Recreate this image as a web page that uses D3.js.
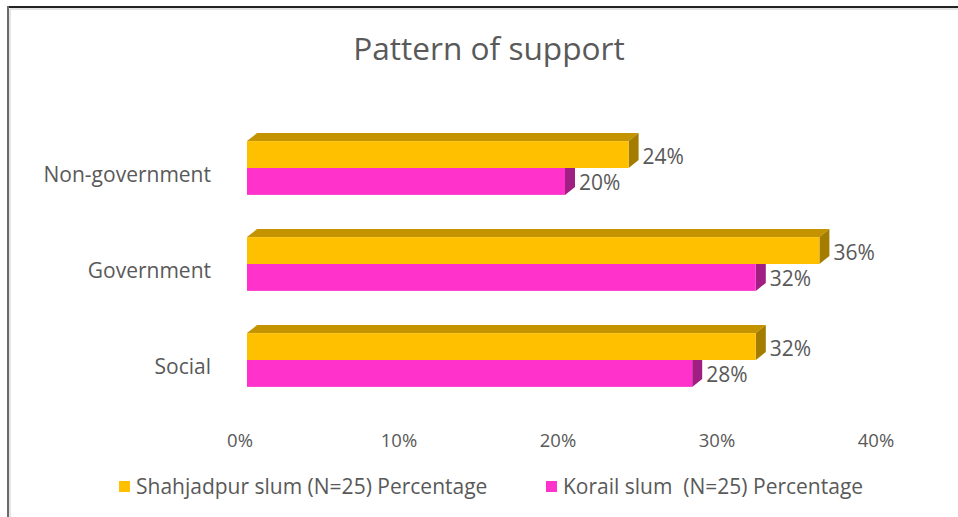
<!DOCTYPE html>
<html>
<head>
<meta charset="utf-8">
<script src="https://cdn.jsdelivr.net/npm/d3@7"></script>
<style>
  body { margin: 0; background: #fff; }
  svg text { font-family: "Open Sans", "Noto Sans", sans-serif; fill: #595959; }
</style>
</head>
<body>
<svg id="chart" width="958" height="517"></svg>
<script>
// chart data
var categories = ["Non-government", "Government", "Social"];
var seriesNames = ["Shahjadpur slum (N=25) Percentage", "Korail slum  (N=25) Percentage"];
var shahjadpur = [0.24, 0.36, 0.32];
var korail = [0.20, 0.32, 0.28];
var xTicks = [0, 0.1, 0.2, 0.3, 0.4];

var svg = d3.select("#chart");

// frame (only top + left edge visible in the original screenshot)
svg.append("rect").attr("x", 0).attr("y", 0).attr("width", 958).attr("height", 517).attr("fill", "#fff");
svg.append("line").attr("x1", 8).attr("x2", 958).attr("y1", 7).attr("y2", 7).attr("stroke", "#222").attr("stroke-width", 2);
svg.append("line").attr("x1", 8).attr("x2", 8).attr("y1", 6).attr("y2", 517).attr("stroke", "#6a6a6a").attr("stroke-width", 2);
svg.append("line").attr("x1", 10).attr("x2", 958).attr("y1", 9).attr("y2", 9).attr("stroke", "#e4e4e4").attr("stroke-width", 2);
svg.append("line").attr("x1", 10).attr("x2", 10).attr("y1", 9).attr("y2", 517).attr("stroke", "#e4e4e4").attr("stroke-width", 2);

svg.append("text")
  .attr("x", 489).attr("y", 60)
  .attr("text-anchor", "middle")
  .style("font-size", "31.6px")
  .text("Pattern of support");

var x = d3.scaleLinear().domain([0, 0.4]).range([247, 883]);
var y = d3.scaleBand().domain(categories).range([120, 408]).paddingInner(0.44).paddingOuter(0.22);
var sub = d3.scaleBand().domain([0, 1]).range([0, y.bandwidth()]);

var dx = 10, dy = 8; // 3d depth
var colors = [
  {front: "#FFC000", top: "#C49300", side: "#A37C00"},
  {front: "#FF33CC", top: "#C02899", side: "#A11F82"}
];
var series = [shahjadpur, korail];

// x axis labels (drawn before bars)
svg.append("g").selectAll("text")
  .data(xTicks).enter().append("text")
  .attr("x", function(d) { return x(d) - 7; })
  .attr("y", 447)
  .attr("text-anchor", "middle")
  .style("font-size", "18.5px")
  .text(d3.format(".0%"));

// category labels
svg.append("g").selectAll("text")
  .data(categories).enter().append("text")
  .attr("x", 211)
  .attr("y", function(d) { return y(d) + y.bandwidth() / 2 + 14; })
  .attr("text-anchor", "end")
  .style("font-size", "21px")
  .text(function(d) { return d; });

// draw pink first so the yellow top face sits over it properly
var bars = [];
categories.forEach(function(c, i) {
  [1, 0].forEach(function(s) {
    bars.push({cat: c, s: s, v: series[s][i]});
  });
});

var g = svg.append("g");
bars.forEach(function(b) {
  var x0 = x(0), x1 = x(b.v);
  var y0 = y(b.cat) + sub(b.s), h = sub.bandwidth();
  var col = colors[b.s];
  // top face
  g.append("path")
    .attr("d", "M" + x0 + "," + y0 + "L" + (x0 + dx) + "," + (y0 - dy) + "L" + (x1 + dx) + "," + (y0 - dy) + "L" + x1 + "," + y0 + "Z")
    .attr("fill", col.top);
  // side face
  g.append("path")
    .attr("d", "M" + x1 + "," + y0 + "L" + (x1 + dx) + "," + (y0 - dy) + "L" + (x1 + dx) + "," + (y0 + h - dy) + "L" + x1 + "," + (y0 + h) + "Z")
    .attr("fill", col.side);
  // front
  g.append("rect")
    .attr("x", x0).attr("y", y0)
    .attr("width", x1 - x0).attr("height", h)
    .attr("fill", col.front);
  // value label
  svg.append("text")
    .attr("x", x1 + dx + 4)
    .attr("y", y0 + h / 2 + 9)
    .style("font-size", "21px")
    .text(d3.format(".0%")(b.v));
});

// legend
var legend = svg.append("g");
var legX = [119, 546];
seriesNames.forEach(function(n, i) {
  legend.append("rect")
    .attr("x", legX[i]).attr("y", 481)
    .attr("width", 11).attr("height", 11)
    .attr("fill", colors[i].front);
  legend.append("text")
    .attr("x", legX[i] + 17).attr("y", 494)
    .style("font-size", "21px")
    .style("white-space", "pre")
    .attr("xml:space", "preserve")
    .text(n);
});
</script>
</body>
</html>
